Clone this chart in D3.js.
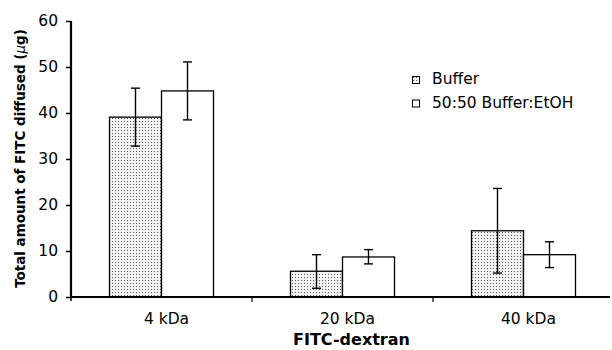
<!DOCTYPE html>
<html><head><meta charset="utf-8">
<script src="https://cdn.jsdelivr.net/npm/d3@7"></script>
<style>body{margin:0;background:#fff}</style>
</head><body><svg id="c" width="612" height="350"></svg>
<script>
const categories = ["4 kDa", "20 kDa", "40 kDa"];
const seriesNames = ["Buffer", "50:50 Buffer:EtOH"];
const bufferValues = [39.1, 5.6, 14.4];
const bufferErrLow = [32.8, 1.9, 5.2];
const bufferErrHigh = [45.4, 9.2, 23.6];
const etohValues = [44.8, 8.7, 9.2];
const etohErrLow = [38.5, 7.2, 6.4];
const etohErrHigh = [51.1, 10.3, 12.0];
const yTicks = [0, 10, 20, 30, 40, 50, 60];

const svg = d3.select("#c");
const font = "'DejaVu Sans', sans-serif";
const defs = svg.append("defs");
const pat = defs.append("pattern").attr("id","dots").attr("patternUnits","userSpaceOnUse")
  .attr("width",3).attr("height",3);
pat.append("rect").attr("width",3).attr("height",3).attr("fill","#f2f2f2");
pat.append("rect").attr("x",1).attr("y",1).attr("width",1).attr("height",1).attr("fill","#555");

const x0 = 71, x1 = 614, yBot = 297, yTop = 21;
const x = d3.scaleBand().domain(categories).range([x0, x1]).padding(0);
const y = d3.scaleLinear().domain([0, 60]).range([yBot, yTop]);
const sub = d3.scaleBand().domain([0,1]).range([0, 104]);
const off = (x.bandwidth() - 104) / 2;

const series = [
  {vals: bufferValues, lo: bufferErrLow, hi: bufferErrHigh, fill: "url(#dots)"},
  {vals: etohValues, lo: etohErrLow, hi: etohErrHigh, fill: "#fff"}
];

series.forEach((s, si) => {
  categories.forEach((c, i) => {
    const bx = x(c) + off + sub(si);
    svg.append("rect").attr("x", bx).attr("y", y(s.vals[i]))
      .attr("width", sub.bandwidth()).attr("height", y(0) - y(s.vals[i]))
      .attr("fill", s.fill).attr("stroke", "#000").attr("stroke-width", 1.3);
  });
});
series.forEach((s, si) => {
  categories.forEach((c, i) => {
    const cx = x(c) + off + sub(si) + sub.bandwidth()/2;
    const g = svg.append("g").attr("stroke","#000").attr("stroke-width",1.4);
    g.append("line").attr("x1",cx).attr("x2",cx).attr("y1",y(s.lo[i])).attr("y2",y(s.hi[i]));
    [s.lo[i], s.hi[i]].forEach(v => g.append("line").attr("x1",cx-4.5).attr("x2",cx+4.5).attr("y1",y(v)).attr("y2",y(v)));
  });
});

// Y axis
const yAxis = svg.append("g").attr("transform",`translate(${x0},0)`)
  .call(d3.axisLeft(y).tickValues(yTicks).tickSize(5).tickPadding(8));
yAxis.select(".domain").attr("stroke-width",2.2).attr("d",`M0,${yTop}V${yBot}`);
yAxis.selectAll(".tick line").attr("stroke-width",1.5);
yAxis.selectAll("text").attr("font-family",font).attr("font-size",15.5).attr("fill","#000");
yAxis.append("line").attr("x1",0).attr("x2",0).attr("y1",yBot).attr("y2",yBot+4).attr("stroke","#000").attr("stroke-width",1.5);

// X axis
const xa = svg.append("g").attr("transform",`translate(0,${yBot})`);
xa.append("line").attr("x1",x0).attr("x2",610).attr("y1",0).attr("y2",0).attr("stroke","#000").attr("stroke-width",2.2);
categories.slice(1).forEach(c => xa.append("line").attr("x1",x(c)).attr("x2",x(c)).attr("y1",0).attr("y2",5).attr("stroke","#000").attr("stroke-width",1.2));
categories.forEach(c => xa.append("text").attr("x", x(c)+x.bandwidth()/2 + 5).attr("y", 27)
  .attr("text-anchor","middle").attr("font-family",font).attr("font-size",15.5).text(c));

function fit(sel, target) {
  const w = sel.node().getComputedTextLength();
  const fs = parseFloat(sel.attr("font-size"));
  sel.attr("font-size", fs * target / w);
}
const title = svg.append("text").attr("x", 351.5).attr("y", 345).attr("text-anchor","middle")
  .attr("font-family",font).attr("font-size",14).attr("font-weight","bold").text("FITC-dextran");
fit(title, 117);
const yl = svg.append("text").attr("transform",`translate(25,158.5) rotate(-90)`).attr("text-anchor","middle")
  .attr("font-family",font).attr("font-size",14).attr("font-weight","bold");
yl.append("tspan").text("Total amount of FITC diffused  (");
yl.append("tspan").attr("font-style","italic").attr("font-weight","normal").text("\u00b5");
yl.append("tspan").text("g)");
fit(yl, 259);

// Legend
const lg = svg.append("g").attr("transform","translate(412,76)");
seriesNames.forEach((n, i) => {
  lg.append("rect").attr("x",0.5).attr("y",i*23.5+0.5).attr("width",7).attr("height",7)
    .attr("fill", series[i].fill).attr("stroke","#000").attr("stroke-width",1);
  lg.append("text").attr("x",20).attr("y",i*23.5+8).attr("font-family",font).attr("font-size",15.5).text(n);
});
</script></body></html>
